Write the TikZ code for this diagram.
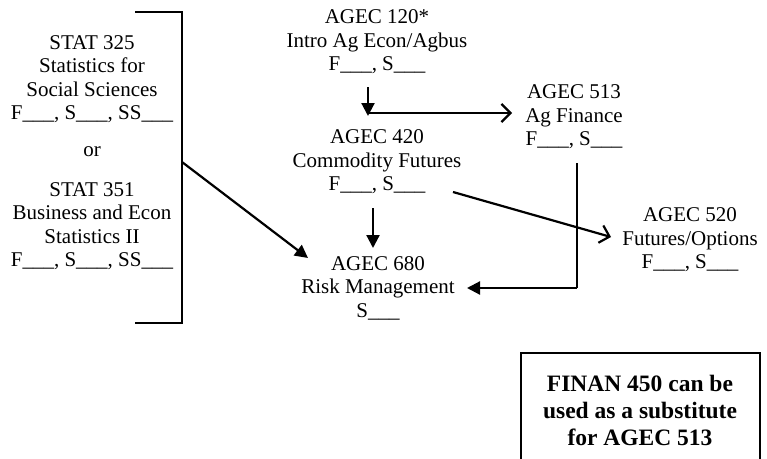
\documentclass[tikz,border=0pt]{standalone}
\usepackage{fontspec}
\setmainfont{Liberation Serif}
\usetikzlibrary{arrows.meta}
\begin{document}
\begin{tikzpicture}[x=1pt,y=-1pt,
  txt/.style={align=center,inner sep=0pt,font=\fontsize{21}{23.5}\selectfont},
  bold/.style={align=center,inner sep=0pt,font=\fontsize{23.5}{27}\selectfont\bfseries},
  thin/.style={line width=1.2pt},
  thick/.style={line width=2.2pt},
  tri/.style={thick,-{Triangle[length=13pt,width=13pt]}},
  barb/.style={thick,-{Straight Barb[length=9pt,width=18pt,line width=2.2pt]}}]
\useasboundingbox (0,0) rectangle (767,458);
% nodes
\node[txt] (s325) at (92,79) {STAT 325\\Statistics for\\Social Sciences\\F\_\_\_, S\_\_\_, SS\_\_\_};
\node[txt] (or) at (92,152) {or};
\node[txt] (s351) at (92,226) {STAT 351\\Business and Econ\\Statistics II\\F\_\_\_, S\_\_\_, SS\_\_\_};
\node[txt] (a120) at (377,42) {AGEC 120*\\Intro Ag Econ/Agbus\\F\_\_\_, S\_\_\_};
\node[txt] (a513) at (574,117) {AGEC 513\\Ag Finance\\F\_\_\_, S\_\_\_};
\node[txt] (a420) at (377,162) {AGEC 420\\Commodity Futures\\F\_\_\_, S\_\_\_};
\node[txt] (a520) at (690,240) {AGEC 520\\Futures/Options\\F\_\_\_, S\_\_\_};
\node[txt] (a680) at (378,288) {AGEC 680\\Risk Management\\S\_\_\_};
% bracket
\coordinate (bt) at (135,12);
\coordinate (bb) at (135,323);
\coordinate (brk) at (182,162);
\draw[thin] (bt) -| (182,323) -- (bb);
% connector end points
\coordinate (p1) at (368,87);
\coordinate (p2) at (368,116);
\coordinate (p3) at (368,113);
\coordinate (p4) at (512,113);
\coordinate (p5) at (373,208);
\coordinate (p6) at (373,248);
\coordinate (p7) at (308,258);
\coordinate (p8) at (453,192);
\coordinate (p9) at (611,237);
\coordinate (p10) at (577,163);
\coordinate (p11) at (577,288);
\coordinate (p12) at (467,288);
% connectors
\draw[tri] (p1) -- (p2);
\draw[barb] (p3) -- (p4);
\draw[tri] (p5) -- (p6);
\draw[tri] (brk) -- (p7);
\draw[barb] (p8) -- (p9);
\draw[thin] (p10) -- (p11);
\draw[tri] (p11) -- (p12);
% note box
\node[bold] (note) at (640,410) {FINAN 450 can be\\used as a substitute\\for AGEC 513};
\draw[line width=1.5pt] (521,470) |- (760,353) -- (760,470);
\end{tikzpicture}
\end{document}
